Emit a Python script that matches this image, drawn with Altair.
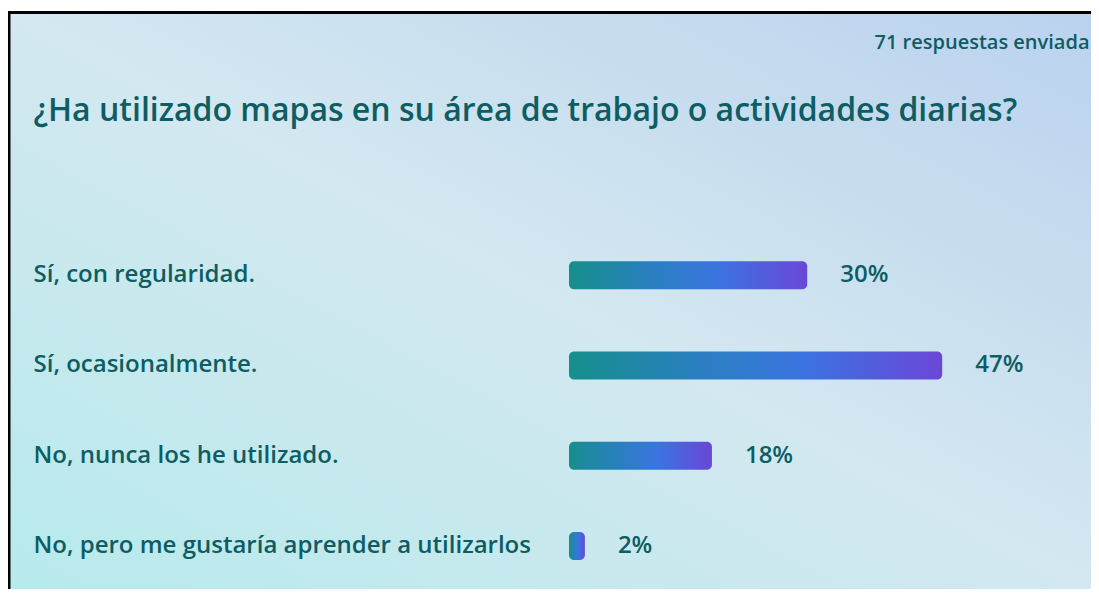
import altair as alt
import pandas as pd

categories = [
    "Sí, con regularidad.",
    "Sí, ocasionalmente.",
    "No, nunca los he utilizado.",
    "No, pero me gustaría aprender a utilizarlos",
]
percent = [30, 47, 18, 2]
labels = ["30%", "47%", "18%", "2%"]

question = "¿Ha utilizado mapas en su área de trabajo o actividades diarias?"
responses = "71 respuestas enviada"

df = pd.DataFrame({"cat": categories, "pct": percent, "label": labels})

TEXT = "#0d5d63"
FONT = "Open Sans"
W, H = 1083, 578

bar_grad = alt.LinearGradient(
    gradient="linear", x1=0, x2=1, y1=0, y2=0,
    stops=[
        alt.GradientStop(offset=0, color="#168f8c"),
        alt.GradientStop(offset=0.35, color="#2a7fc0"),
        alt.GradientStop(offset=0.62, color="#3a74e0"),
        alt.GradientStop(offset=1, color="#6a47d8"),
    ],
)
bg_grad = alt.LinearGradient(
    gradient="linear", x1=1, y1=0, x2=0, y2=1,
    stops=[
        alt.GradientStop(offset=0, color="#bad2ee"),
        alt.GradientStop(offset=0.5, color="#d3e8f0"),
        alt.GradientStop(offset=1, color="#b7eaeb"),
    ],
)

xscale = alt.Scale(domain=[0, 100], range=[561, 561 + 794])
yscale = alt.Scale(domain=categories, range=[219, 580], paddingInner=0, paddingOuter=0)

one = pd.DataFrame({"a": [0]})

background = alt.Chart(one).mark_rect(fill=bg_grad).encode(
    x=alt.value(0), x2=alt.value(W), y=alt.value(0), y2=alt.value(H))

base = alt.Chart(df)

bars = base.mark_bar(size=28, cornerRadius=5, fill=bar_grad).encode(
    x=alt.X("pct:Q", scale=xscale,
            axis=alt.Axis(orient="top", labels=False, ticks=False, domain=False, grid=False,
                          zindex=1,
                          title=responses, titleX=1081, titleY=31, titleAlign="right",
                          titleBaseline="middle", titleFont=FONT, titleFontSize=20,
                          titleFontWeight=600, titleColor=TEXT, titleAngle=0)),
    x2=alt.X2(datum=0),
    y=alt.Y("cat:N", scale=yscale, sort=categories,
            axis=alt.Axis(orient="left", ticks=False, domain=False, grid=False,
                          zindex=1,
                          labelAlign="left", labelPadding=0, offset=-25, labelLimit=0,
                          labelFont=FONT, labelFontSize=24, labelFontWeight=600,
                          labelColor=TEXT,
                          title=question, titleX=0, titleY=99, titleAngle=0,
                          titleAlign="left", titleBaseline="middle", titleFont=FONT,
                          titleFontSize=32, titleFontWeight=600, titleColor=TEXT)),
)

pct_text = base.mark_text(align="left", baseline="middle", dx=33, font=FONT,
                          fontSize=24, fontWeight=600, color=TEXT).encode(
    x=alt.X("pct:Q", scale=xscale),
    y=alt.Y("cat:N", scale=yscale, sort=categories),
    text="label:N",
)

frame_left = alt.Chart(one).mark_rule(color="black", strokeWidth=3).encode(
    x=alt.value(1), y=alt.value(0), y2=alt.value(H))
frame_top = alt.Chart(one).mark_rule(color="black", strokeWidth=3).encode(
    x=alt.value(0), x2=alt.value(W), y=alt.value(1.5))

chart = alt.layer(background, bars, pct_text, frame_left, frame_top).properties(
    width=W, height=H,
    autosize=alt.AutoSizeParams(type="none"),
    padding={"left": 0, "top": 3, "right": 0, "bottom": 0},
    background="white",
).configure_view(stroke=None)

chart.save("out.html", embed_options={"renderer": "svg", "actions": False})
